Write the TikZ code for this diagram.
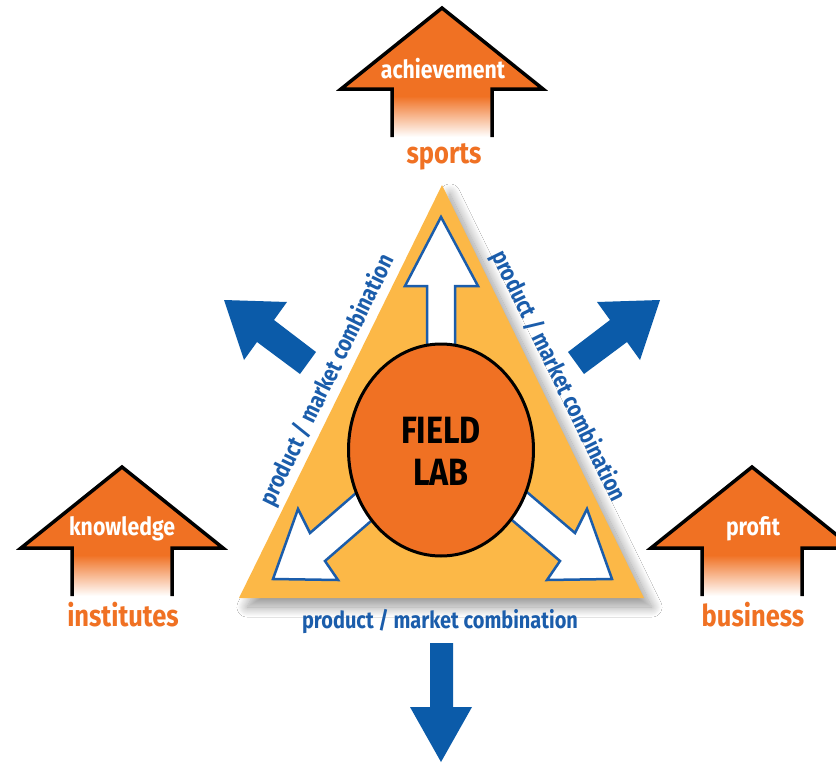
\documentclass[tikz,border=0pt]{standalone}
\usepackage{fontspec}
\setmainfont{Fira Sans}[FakeStretch=0.85]
\usetikzlibrary{shapes.geometric,shadows.blur}

\definecolor{fieldorange}{HTML}{F07123}
\definecolor{triyellow}{HTML}{FCB847}
\definecolor{pmcblue}{HTML}{1B5DAB}
\definecolor{outblue}{HTML}{0B5BA9}

\tikzset{
  goalarrow/.pic={
    \fill[fieldorange] (-50,81) -- (-101,81) -- (0,0) -- (101,81) -- (50,81)
      -- (50,89) -- (-50,89) -- cycle;
    \shade[top color=fieldorange, bottom color=white] (-50,88) rectangle (50,129);
    \draw[line width=3.5pt, line join=miter, miter limit=10]
      (-50,129) -- (-50,81) -- (-101,81) -- (0,0) -- (101,81) -- (50,81) -- (50,129);
  },
  goaltext/.style={text=white, font=\bfseries\fontsize{25}{27}\selectfont, anchor=base, inner sep=0pt},
  groupname/.style={text=fieldorange, font=\bfseries\fontsize{30}{32}\selectfont, anchor=base, inner sep=0pt},
  pmc/.style={text=pmcblue, font=\bfseries\fontsize{23.5}{25}\selectfont, inner sep=0pt},
  pmarrow/.style={fill=white, draw=pmcblue, line width=2.5pt, line join=miter},
  outarrow/.style={fill=outblue},
  labtext/.style={font=\bfseries\fontsize{38}{42}\selectfont, anchor=base, inner sep=0pt},
}

\begin{document}
\begin{tikzpicture}[x=1pt, y=-1pt]
\clip (0,0) rectangle (836,763);
\fill[white] (0,0) rectangle (836,763);

% three goal arrows with their stakeholder groups
\pic at (442,8) {goalarrow};
\pic at (122,467) {goalarrow};
\pic at (752,467) {goalarrow};
\node[goaltext] (achievement) at (443,78) {achievement};
\node[goaltext] (knowledge) at (122,535) {knowledge};
\node[goaltext] (profit) at (753,535) {profit};
\node[groupname] (sports) at (444,163) {sports};
\node[groupname] (institutes) at (123,626) {institutes};
\node[groupname] (business) at (753,626) {business};

% outward blue arrows
\fill[outarrow] (224,300) -- (287,302) -- (274,320) -- (316,352) -- (300,374)
  -- (257,342) -- (244,360) -- cycle;
\fill[outarrow] (660,300) -- (597,302) -- (610,320) -- (568,352) -- (584,374)
  -- (627,342) -- (640,360) -- cycle;
\fill[outarrow] (430,643) -- (453,643) -- (453,707) -- (472,707) -- (441,762)
  -- (410,707) -- (430,707) -- cycle;

% triangle of product / market combinations
\coordinate (apex) at (442,185);
\coordinate (bl) at (239,598);
\coordinate (br) at (644,598);
\fill[triyellow, blur shadow={shadow xshift=8pt, shadow yshift=-9pt,
  shadow blur radius=10pt, shadow blur steps=20, shadow opacity=40}]
  (apex) -- (bl) -- (br) -- cycle;

\path (bl) -- (apex) node[pmc, pos=0.51, sloped, above=4pt] (pmcleft) {product / market combination};
\path (apex) -- (br) node[pmc, pos=0.485, sloped, above=8pt] (pmcright) {product / market combination};
\node[pmc, anchor=base] (pmcbottom) at (440,628) {product / market combination};

% white arrows leaving the field lab
\draw[pmarrow] (441,217) -- (478,286) -- (455,286) -- (455,380) -- (427,380)
  -- (427,286) -- (405,286) -- cycle;
\draw[pmarrow] (273,579) -- (338,580) -- (325,561) -- (378,515) -- (363,487)
  -- (310,533) -- (298,509) -- cycle;
\draw[pmarrow] (612,579) -- (547,580) -- (560,561) -- (506,515) -- (521,487)
  -- (575,533) -- (587,509) -- cycle;

% field lab
\node[ellipse, draw, line width=3pt, fill=fieldorange, minimum width=185pt,
  minimum height=212pt, inner sep=0pt] (lab) at (441,450) {};
\node[labtext] (fieldword) at (441,443) {FIELD};
\node[labtext] (labword) at (441,485) {LAB};
\end{tikzpicture}
\end{document}
